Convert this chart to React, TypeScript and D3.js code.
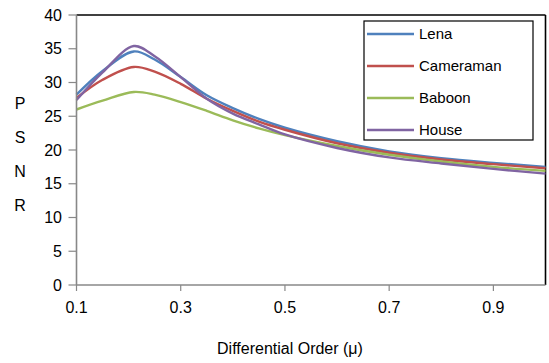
import React from 'react';
import * as d3 from 'd3';

// differential order samples
const orders = [0.1, 0.15, 0.21, 0.25, 0.3, 0.35, 0.4, 0.45, 0.5, 0.6, 0.7, 0.8, 0.9, 1.0];

const lena = [28.2, 31.7, 34.6, 33.4, 30.8, 28.1, 26.2, 24.6, 23.3, 21.3, 19.8, 18.8, 18.1, 17.5];
const cameraman = [27.7, 30.4, 32.3, 31.6, 29.8, 27.6, 25.8, 24.2, 23.0, 21.0, 19.6, 18.6, 17.9, 17.3];
const baboon = [26.0, 27.3, 28.6, 28.2, 27.1, 25.8, 24.4, 23.2, 22.2, 20.6, 19.3, 18.3, 17.5, 16.9];
const house = [27.4, 31.5, 35.4, 33.9, 30.8, 27.6, 25.4, 23.8, 22.3, 20.3, 18.9, 18.0, 17.2, 16.5];

const seriesNames = ['Lena', 'Cameraman', 'Baboon', 'House'];
const seriesValues = [lena, cameraman, baboon, house];
const seriesColors = ['#4F81BD', '#C0504D', '#9BBB59', '#8064A2'];

const xTicks = [0.1, 0.3, 0.5, 0.7, 0.9];
const yTicks = [0, 5, 10, 15, 20, 25, 30, 35, 40];
const yLabelLetters = ['P', 'S', 'N', 'R'];

const W = 549;
const H = 363;
const FONT = 'Liberation Sans, Arial, Helvetica, sans-serif';

export default function App() {
  const x = d3.scaleLinear().domain([0.1, 1.0]).range([76.5, 545.5]);
  const y = d3.scaleLinear().domain([0, 40]).range([285, 15]);

  const line = d3
    .line<number>()
    .x((_, i) => x(orders[i]))
    .y((d) => y(d))
    .curve(d3.curveCatmullRom.alpha(0.5));

  return (
    <svg width={W} height={H} style={{ position: 'absolute', left: 0, top: 0, background: '#fff' }} fontFamily={FONT}>
      {/* frame: top and right in black */}
      <line x1={x(0.1)} x2={x(1.0)} y1={y(40)} y2={y(40)} stroke="#000" strokeWidth={1.6} />
      <line x1={x(1.0)} x2={x(1.0)} y1={y(40)} y2={y(0)} stroke="#000" strokeWidth={1.6} />

      {seriesValues.map((vals, i) => (
        <path key={seriesNames[i]} d={line(vals) || ''} fill="none" stroke={seriesColors[i]} strokeWidth={2.4} />
      ))}

      {/* y axis */}
      <line x1={x(0.1)} x2={x(0.1)} y1={y(40)} y2={y(0)} stroke="#888" strokeWidth={1.6} />
      {yTicks.map((t) => (
        <g key={t}>
          <line x1={x(0.1) - 8} x2={x(0.1)} y1={y(t)} y2={y(t)} stroke="#888" strokeWidth={1.2} />
          <text x={62} y={y(t)} dy="0.35em" textAnchor="end" fontSize={16} fill="#000">
            {t}
          </text>
        </g>
      ))}

      {/* x axis */}
      <line x1={x(0.1)} x2={x(1.0)} y1={y(0)} y2={y(0)} stroke="#888" strokeWidth={1.6} />
      {xTicks.map((t) => (
        <g key={t}>
          <line x1={x(t)} x2={x(t)} y1={y(0)} y2={y(0) + 6} stroke="#888" strokeWidth={1.2} />
          <text x={x(t)} y={307} dy="0.35em" textAnchor="middle" fontSize={16} fill="#000">
            {d3.format('.1f')(t)}
          </text>
        </g>
      ))}

      {/* axis titles */}
      {yLabelLetters.map((ch, i) => (
        <text key={ch} x={20} y={103 + i * 34} dy="0.35em" textAnchor="middle" fontSize={16} fill="#000">
          {ch}
        </text>
      ))}
      <text x={290} y={348} dy="0.35em" textAnchor="middle" fontSize={16} fill="#000">
        Differential Order (μ)
      </text>

      {/* legend */}
      <rect x={364} y={21} width={169} height={119} fill="#fff" stroke="#000" strokeWidth={1.2} />
      {seriesNames.map((name, i) => {
        const ly = 34 + i * 32;
        return (
          <g key={name}>
            <line x1={367} x2={414} y1={ly} y2={ly} stroke={seriesColors[i]} strokeWidth={2.4} />
            <text x={419} y={ly} dy="0.35em" fontSize={15} fill="#000">
              {name}
            </text>
          </g>
        );
      })}
    </svg>
  );
}
